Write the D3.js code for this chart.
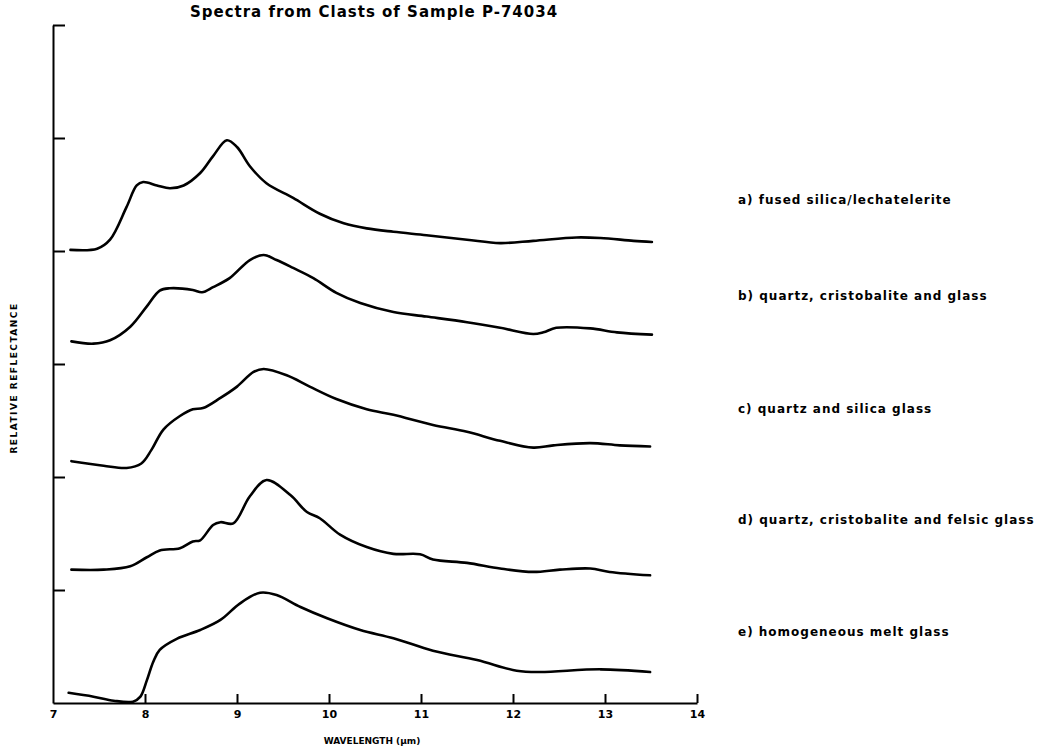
<!DOCTYPE html>
<html>
<head>
<meta charset="utf-8">
<script src="https://cdn.jsdelivr.net/npm/d3@7"></script>
<style>
    body { margin: 0; background: #fff; }
    text { font-family: "DejaVu Sans", sans-serif; font-weight: bold; fill: #000; }
</style>
</head>
<body>
<div id="chart"></div>
<script>
// wavelength (um) / relative reflectance (offset units, one tick = 1)
var specA = [[7.19, 4.01], [7.48, 4.02], [7.62, 4.10], [7.80, 4.39], [7.91, 4.58], [7.98, 4.61], [8.13, 4.58],
    [8.27, 4.555], [8.42, 4.58], [8.60, 4.69], [8.74, 4.84], [8.89, 4.98], [9.00, 4.92], [9.14, 4.75],
    [9.32, 4.60], [9.61, 4.47], [9.90, 4.33], [10.16, 4.245], [10.41, 4.20], [10.70, 4.17], [11.06, 4.14],
    [11.50, 4.10], [11.86, 4.07], [12.22, 4.09], [12.69, 4.12], [12.95, 4.115], [13.31, 4.09], [13.51, 4.08]]
var specB = [[7.20, 3.20], [7.44, 3.18], [7.62, 3.21], [7.84, 3.33], [8.02, 3.51], [8.16, 3.65], [8.27, 3.67],
    [8.52, 3.655], [8.62, 3.635], [8.74, 3.68], [8.92, 3.76], [9.14, 3.92], [9.29, 3.965], [9.43, 3.92],
    [9.61, 3.85], [9.83, 3.76], [10.08, 3.63], [10.34, 3.54], [10.70, 3.46], [11.06, 3.42], [11.50, 3.37],
    [11.86, 3.32], [12.22, 3.265], [12.33, 3.28], [12.47, 3.32], [12.84, 3.315], [13.13, 3.28], [13.51, 3.26]]
var specC = [[7.20, 2.14], [7.55, 2.10], [7.80, 2.08], [7.96, 2.12], [8.07, 2.24], [8.20, 2.42], [8.38, 2.54],
    [8.52, 2.60], [8.63, 2.61], [8.82, 2.70], [9.00, 2.80], [9.18, 2.93], [9.29, 2.956], [9.54, 2.90],
    [9.79, 2.80], [10.08, 2.69], [10.41, 2.60], [10.70, 2.55], [11.13, 2.46], [11.50, 2.40], [11.86, 2.32],
    [12.22, 2.26], [12.44, 2.28], [12.84, 2.30], [13.16, 2.28], [13.49, 2.27]]
var specD = [[7.20, 1.18], [7.55, 1.18], [7.84, 1.21], [8.02, 1.29], [8.16, 1.35], [8.38, 1.37], [8.52, 1.43],
    [8.60, 1.44], [8.74, 1.575], [8.82, 1.60], [8.96, 1.59], [9.14, 1.83], [9.32, 1.973], [9.58, 1.84],
    [9.76, 1.69], [9.90, 1.635], [10.12, 1.49], [10.41, 1.38], [10.70, 1.32], [10.99, 1.316], [11.13, 1.27],
    [11.50, 1.24], [11.86, 1.19], [12.22, 1.16], [12.51, 1.18], [12.84, 1.19], [13.05, 1.16], [13.49, 1.13]]
var specE = [[7.17, 0.09], [7.44, 0.056], [7.66, 0.02], [7.87, 0.012], [7.95, 0.056], [8.02, 0.20], [8.09, 0.365],
    [8.16, 0.47], [8.35, 0.57], [8.60, 0.646], [8.82, 0.735], [9.03, 0.88], [9.25, 0.976], [9.43, 0.956],
    [9.69, 0.85], [9.98, 0.75], [10.34, 0.646], [10.70, 0.573], [11.13, 0.463], [11.61, 0.38], [12.04, 0.286],
    [12.29, 0.274], [12.95, 0.298], [13.49, 0.274]]

var spectra = [specA, specB, specC, specD, specE]
var spectraNames = ['a) fused silica/lechatelerite', 'b) quartz, cristobalite and glass', 'c) quartz and silica glass',
    'd) quartz, cristobalite and felsic glass', 'e) homogeneous melt glass']
var labelLevels = [4.45, 3.6, 2.6, 1.62, 0.63]
var xTicks = [7, 8, 9, 10, 11, 12, 13, 14]
var yTicks = [1, 2, 3, 4, 5, 6]

var width = 1041, height = 751
var svg = d3.select('#chart').append('svg').attr('width', width).attr('height', height)

var x = d3.scaleLinear().domain([7, 14]).range([53, 697])
var y = d3.scaleLinear().domain([0, 6]).range([703, 25])

// axes, ticks pointing inward
var xAxis = svg.append('g').attr('transform', 'translate(0,' + y(0) + ')')
    .call(d3.axisBottom(x).tickValues(xTicks).tickFormat(d3.format('d'))
        .tickSizeInner(-9).tickSizeOuter(0).tickPadding(7))
xAxis.selectAll('.tick line').filter(function (d) { return d == 7 }).remove()
xAxis.selectAll('text').style('font-size', '11px').style('font-family', '"DejaVu Sans", sans-serif')

var yAxis = svg.append('g').attr('transform', 'translate(' + x(7) + ',0)')
    .call(d3.axisLeft(y).tickValues(yTicks).tickSizeInner(-12).tickSizeOuter(0).tickFormat(''))

svg.selectAll('.domain, .tick line').attr('stroke', '#000').attr('stroke-width', 2)

var line = d3.line()
    .x(function (d) { return x(d[0]) })
    .y(function (d) { return y(d[1]) })
    .curve(d3.curveCatmullRom.alpha(0.5))

svg.selectAll('path.spec').data(spectra).enter().append('path')
    .attr('class', 'spec')
    .attr('d', line)
    .attr('fill', 'none')
    .attr('stroke', '#000')
    .attr('stroke-width', 2.6)
    .attr('stroke-linejoin', 'round')
    .attr('stroke-linecap', 'round')

svg.selectAll('text.name').data(spectraNames).enter().append('text')
    .attr('class', 'name')
    .attr('x', 738)
    .attr('y', function (d, i) { return y(labelLevels[i]) })
    .attr('dy', '0.35em')
    .style('font-size', '12px')
    .style('letter-spacing', '1px')
    .text(function (d) { return d })

svg.append('text')
    .attr('x', 374).attr('y', 17)
    .attr('text-anchor', 'middle')
    .style('font-size', '15px')
    .style('letter-spacing', '1px')
    .text('Spectra from Clasts of Sample P-74034')

svg.append('text')
    .attr('x', 372).attr('y', 744)
    .attr('text-anchor', 'middle')
    .style('font-size', '9px')
    .text('WAVELENGTH (\u03bcm)')

svg.append('text')
    .attr('transform', 'translate(17,' + 378 + ') rotate(-90)')
    .attr('text-anchor', 'middle')
    .style('font-size', '9px')
    .style('letter-spacing', '1.5px')
    .text('RELATIVE REFLECTANCE')
</script>
</body>
</html>
